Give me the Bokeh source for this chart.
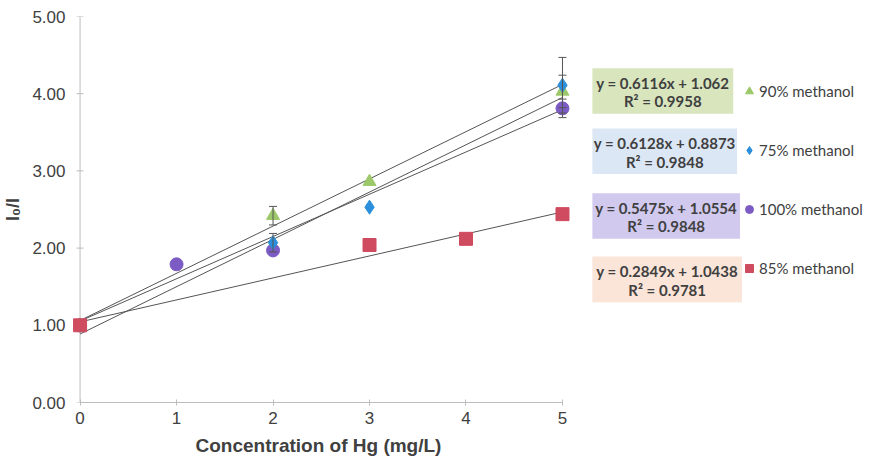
from bokeh.plotting import figure
from bokeh.models import (Range1d, FixedTicker, Span, Whisker, ColumnDataSource,
                          BoxAnnotation, Label, Legend, LegendItem, TeeHead,
                          PrintfTickFormatter, Title)
from bokeh.embed import file_html
from bokeh.resources import INLINE

# ---------------- data ----------------
series_names = ["90% methanol", "75% methanol", "100% methanol", "85% methanol"]

x_90 = [0, 2, 3, 5]
y_90 = [1.00, 2.42, 2.86, 4.03]
err_90 = [0, 0.12, 0, 0.21]

x_75 = [0, 2, 3, 5]
y_75 = [1.00, 2.07, 2.53, 4.11]
err_75 = [0, 0.12, 0, 0.36]

x_100 = [0, 1, 2, 5]
y_100 = [1.00, 1.79, 1.97, 3.81]
err_100 = [0, 0, 0, 0.12]

x_85 = [0, 3, 4, 5]
y_85 = [1.00, 2.04, 2.12, 2.44]
err_85 = [0, 0, 0, 0]

slopes = [0.6116, 0.6128, 0.5475, 0.2849]
intercepts = [1.062, 0.8873, 1.0554, 1.0438]
r_squared = [0.9958, 0.9848, 0.9848, 0.9781]

x_ticks = [0, 1, 2, 3, 4, 5]
y_ticks = [0, 1, 2, 3, 4, 5]
x_title = "Concentration of Hg (mg/L)"
y_title = "I\u2080/I"

# ---------------- styles ----------------
marker_colors = ["#9cc86a", "#2b8fdb", "#7c5cc4", "#cf4b5f"]
marker_types = ["triangle", "diamond", "circle", "square"]
marker_sizes = [13, 14, 13, 13]
box_colors = ["#d8e5bd", "#dce7f6", "#d1c9ee", "#fbe4d8"]
text_col = "#404040"
axis_col = "#bdbdbd"
line_col = "#555555"
AX_FONT = "Liberation Sans"
LG_FONT = "Lato"

p = figure(width=875, height=462,
           x_range=Range1d(-0.12, 8.2444), y_range=Range1d(0, 5),
           output_backend="svg", toolbar_location=None,
           min_border_left=67, min_border_right=0,
           min_border_top=16, min_border_bottom=59)
p.xgrid.visible = False
p.ygrid.visible = False
p.outline_line_color = None
p.background_fill_color = "white"

# x axis
xa = p.xaxis[0]
xa.bounds = (x_ticks[0], x_ticks[-1])
xa.ticker = FixedTicker(ticks=x_ticks)
xa.formatter = PrintfTickFormatter(format="%d")
xa.axis_line_color = axis_col
xa.major_tick_line_color = axis_col
xa.major_tick_in = 3
xa.major_tick_out = 3
xa.minor_tick_line_color = None
xa.major_label_text_font = AX_FONT
xa.major_label_text_font_size = "17px"
xa.major_label_text_color = text_col
xa.major_label_standoff = 6

# x title, placed under the 0..5 part of the axis
p.add_layout(Title(text=x_title, align="left", offset=127, standoff=13,
                   text_font=AX_FONT, text_font_size="19px",
                   text_font_style="bold", text_color=text_col), "below")

# y axis (labels only; the axis line is drawn at x = 0)
ya = p.yaxis[0]
ya.ticker = FixedTicker(ticks=y_ticks)
ya.formatter = PrintfTickFormatter(format="%.2f")
ya.axis_line_color = None
ya.major_tick_line_color = None
ya.minor_tick_line_color = None
ya.major_tick_out = 0
ya.major_tick_in = 0
ya.major_label_text_font = AX_FONT
ya.major_label_text_font_size = "17px"
ya.major_label_text_color = text_col
ya.major_label_standoff = 3
ya.axis_label = y_title
ya.axis_label_text_font = AX_FONT
ya.axis_label_text_font_size = "18px"
ya.axis_label_text_font_style = "bold"
ya.axis_label_text_color = text_col
ya.axis_label_standoff = 6

p.add_layout(Span(location=x_ticks[0], dimension="height", line_color=axis_col,
                  line_width=1, level="underlay"))
p.scatter(x=[x_ticks[0]] * len(y_ticks), y=y_ticks, marker="dash", size=7,
          line_color=axis_col, level="underlay")

# trend lines
x_line = [x_ticks[0], x_ticks[-1]]
for m, b in zip(slopes, intercepts):
    p.line(x=x_line, y=[m * x + b for x in x_line], line_color=line_col, line_width=1)

# error bars
xs_all = [x_90, x_75, x_100, x_85]
ys_all = [y_90, y_75, y_100, y_85]
errs_all = [err_90, err_75, err_100, err_85]
wb, wu, wl = [], [], []
for xs, ys, es in zip(xs_all, ys_all, errs_all):
    for x, y, e in zip(xs, ys, es):
        if e > 0:
            wb.append(x); wu.append(y + e); wl.append(y - e)
wsrc = ColumnDataSource(dict(base=wb, upper=wu, lower=wl))
p.add_layout(Whisker(source=wsrc, base="base", upper="upper", lower="lower",
                     dimension="height", line_color=line_col, line_width=1,
                     upper_head=TeeHead(size=8, line_color=line_col),
                     lower_head=TeeHead(size=8, line_color=line_col),
                     level="glyph"))

# markers (drawing order: 100%, 90%, 75%, 85%)
renderers = {}
for i in [2, 0, 1, 3]:
    r = p.scatter(x=xs_all[i], y=ys_all[i], marker=marker_types[i],
                  size=marker_sizes[i], fill_color=marker_colors[i],
                  line_color=marker_colors[i])
    renderers[i] = r

legend = Legend(items=[LegendItem(label=series_names[i], renderers=[renderers[i]])
                       for i in range(4)],
                location=(671, 124), orientation="vertical",
                glyph_width=20, glyph_height=20, label_height=20, spacing=39,
                padding=0, margin=0, border_line_color=None,
                background_fill_alpha=0, label_standoff=0,
                label_text_font=LG_FONT, label_text_font_size="15px",
                label_text_color=text_col)
p.add_layout(legend)

# equation boxes
box_left = 5.31
box_rights = [6.77, 6.81, 6.84, 6.86]
box_tops = [4.33, 3.55, 2.71, 1.89]
box_h = 0.59
for i in range(4):
    p.add_layout(BoxAnnotation(left=box_left, right=box_rights[i],
                               top=box_tops[i], bottom=box_tops[i] - box_h,
                               fill_color=box_colors[i], fill_alpha=1,
                               line_color=None, level="annotation"))
for i in range(4):
    cx = (box_left + box_rights[i]) / 2
    p.add_layout(Label(x=cx, y=box_tops[i] - 0.19, text=f"y = {slopes[i]}x + {intercepts[i]}",
                       text_align="center", text_baseline="middle",
                       text_font=LG_FONT, text_font_size="15px",
                       text_color=text_col, text_font_style="bold"))
    p.add_layout(Label(x=cx, y=box_tops[i] - 0.43, text=f"R\u00b2 = {r_squared[i]}",
                       text_align="center", text_baseline="middle",
                       text_font=LG_FONT, text_font_size="15px",
                       text_color=text_col, text_font_style="bold"))

open("out.html", "w").write(file_html(p, INLINE))
